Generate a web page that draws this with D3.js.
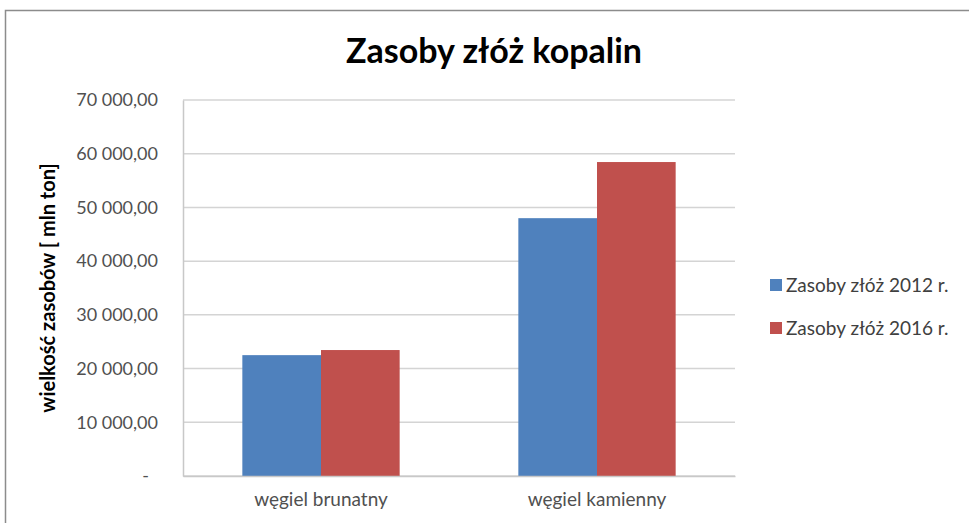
<!DOCTYPE html>
<html>
  <head>
    <meta charset="utf-8">
    <title>Zasoby złóż kopalin</title>
    <script src="https://d3js.org/d3.v7.min.js"></script>
    <style>
      body { margin: 0; background: #fff; }
      text { font-family: Lato, "Open Sans", sans-serif; }
    </style>
  </head>
  <body>
    <svg width="969" height="523"></svg>
    <script>
      const categories = ["węgiel brunatny", "węgiel kamienny"];
      const seriesNames = ["Zasoby złóż 2012 r.", "Zasoby złóż 2016 r."];
      const values2012 = [22500, 48000];
      const values2016 = [23450, 58450];
      const yTicks = [0, 10000, 20000, 30000, 40000, 50000, 60000, 70000];
      const colors = ["#4F81BD", "#C0504D"];

      const svg = d3.select("svg");

      // chart frame
      svg.append("rect")
        .attr("x", 5.5).attr("y", 10.5)
        .attr("width", 980).attr("height", 530)
        .attr("fill", "none")
        .attr("stroke", "#8c8c8c")
        .attr("stroke-width", 1.5);

      const margin = { left: 183, right: 234, top: 100, bottom: 47 };
      const width = 969 - margin.left - margin.right;
      const height = 523 - margin.top - margin.bottom;

      const g = svg.append("g")
        .attr("transform", `translate(${margin.left},${margin.top})`);

      const x0 = d3.scaleBand()
        .domain(categories)
        .range([0, width])
        .paddingInner(0.43)
        .paddingOuter(0.215);

      const x1 = d3.scaleBand()
        .domain(seriesNames)
        .range([0, x0.bandwidth()]);

      const y = d3.scaleLinear()
        .domain([0, 70000])
        .range([height, 0]);

      const fmt = v => v === 0 ? "-" :
        d3.format(",.2f")(v).replace(/,/g, " ").replace(".", ",");

      // gridlines
      g.append("g")
        .selectAll("line")
        .data(yTicks)
        .join("line")
          .attr("x1", 0).attr("x2", width)
          .attr("y1", d => y(d)).attr("y2", d => y(d))
          .attr("stroke", "#d4d4d4")
          .attr("stroke-width", 1.5);

      // y axis
      const yAxis = g.append("g")
        .call(d3.axisLeft(y).tickValues(yTicks).tickFormat(fmt).tickSize(0).tickPadding(25));
      yAxis.select(".domain").attr("stroke", "#c8c8c8").attr("stroke-width", 1.5);
      yAxis.selectAll("text")
        .attr("fill", "#505050")
        .style("font-size", "18px");
      yAxis.selectAll(".tick").filter(d => d === 0).select("text")
        .attr("x", -34);

      // bars
      const rows = categories.map((c, i) => ({ cat: c, vals: [values2012[i], values2016[i]] }));
      g.append("g")
        .selectAll("g")
        .data(rows)
        .join("g")
          .attr("transform", d => `translate(${x0(d.cat)},0)`)
        .selectAll("rect")
        .data(d => d.vals.map((v, j) => ({ name: seriesNames[j], v, j })))
        .join("rect")
          .attr("x", d => x1(d.name))
          .attr("y", d => y(d.v))
          .attr("width", x1.bandwidth())
          .attr("height", d => height - y(d.v))
          .attr("fill", d => colors[d.j]);

      // x axis
      const xAxis = g.append("g")
        .attr("transform", `translate(0,${height})`)
        .call(d3.axisBottom(x0).tickSize(0).tickPadding(17));
      xAxis.select(".domain").attr("stroke", "#c8c8c8").attr("stroke-width", 1.5);
      xAxis.selectAll("text")
        .attr("fill", "#505050")
        .style("font-size", "19px");

      // title
      svg.append("text")
        .attr("x", 494).attr("y", 63)
        .attr("text-anchor", "middle")
        .style("font-size", "34px")
        .style("font-weight", "bold")
        .attr("fill", "#000")
        .text("Zasoby złóż kopalin");

      // y axis title
      svg.append("text")
        .attr("transform", "translate(55,288) rotate(-90)")
        .attr("text-anchor", "middle")
        .style("font-size", "20px")
        .style("font-weight", "bold")
        .attr("fill", "#000")
        .text("wielkość zasobów [ mln ton]");

      // legend
      const legend = svg.append("g")
        .selectAll("g")
        .data(seriesNames)
        .join("g")
          .attr("transform", (d, i) => `translate(770,${285 + i * 43})`);
      legend.append("rect")
        .attr("x", 0).attr("y", -6)
        .attr("width", 12).attr("height", 12)
        .attr("fill", (d, i) => colors[i]);
      legend.append("text")
        .attr("x", 16).attr("y", 7)
        .style("font-size", "19px")
        .attr("fill", "#404040")
        .text(d => d);
    </script>
  </body>
</html>
